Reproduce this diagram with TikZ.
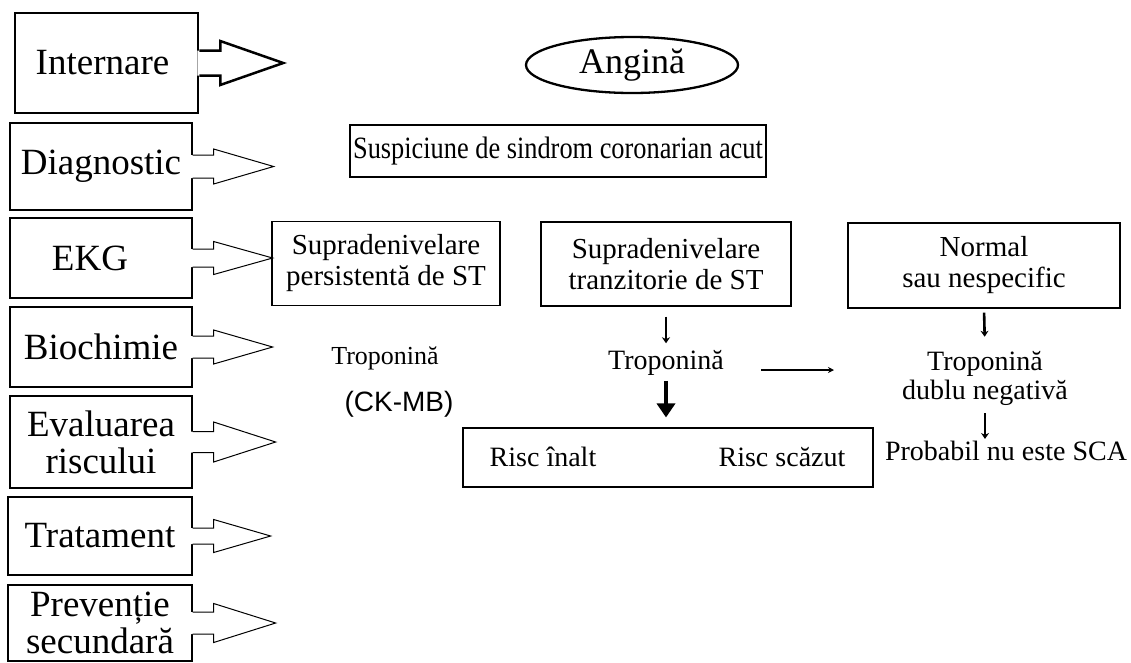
\documentclass[tikz,border=0pt]{standalone}
\usepackage{fontspec}
\usepackage{graphicx}
\setmainfont{Liberation Serif}
\newfontfamily\sansf{Liberation Sans}
\usetikzlibrary{shapes.geometric,arrows.meta,calc}

% #1 node, #2 shaft half, #3 head half, #4 stub, #5 length, #6 line width
\newcommand\sidearrow[6]{%
  \fill[white] ($(#1.east)+(-2,-#2)$) -- ($(#1.east)+(#4,-#2)$) -- ($(#1.east)+(#4,-#3)$) -- ($(#1.east)+(#5,0)$) -- ($(#1.east)+(#4,#3)$) -- ($(#1.east)+(#4,#2)$) -- ($(#1.east)+(-2,#2)$) -- cycle;
  \draw[line width=#6, line join=miter] ($(#1.east)+(0,-#2)$) -- ($(#1.east)+(#4,-#2)$) -- ($(#1.east)+(#4,-#3)$) -- ($(#1.east)+(#5,0)$) -- ($(#1.east)+(#4,#3)$) -- ($(#1.east)+(#4,#2)$) -- ($(#1.east)+(0,#2)$);
}

\tikzset{
  lbox/.style={draw, line width=1.3pt, minimum width=182pt, inner sep=0pt, align=center,
    font=\fontsize{37}{37}\selectfont},
  rbox/.style={draw, line width=1.1pt, inner sep=0pt, align=center,
    font=\fontsize{29}{31}\selectfont},
  txt/.style={inner sep=0pt, align=center, font=\fontsize{28}{28}\selectfont},
  thinarr/.style={line width=2.6pt, -{Stealth[length=6pt,width=8pt]}},
  boldarr/.style={line width=4.5pt, -{Triangle[length=14pt,width=18pt]}},
}

\begin{document}
\begin{tikzpicture}[x=1pt,y=-1pt]
\useasboundingbox (0,0) rectangle (1131,662);
\fill[white] (0,0) rectangle (1131,662);

% left column
\node[lbox, line width=2.5pt, minimum width=183pt, minimum height=100pt] (intern) at (106.5,63) {\hspace*{-8pt}Internare};
\node[lbox, minimum height=87pt] (diag) at (101,166.5) {Diagnostic};
\node[lbox, minimum height=80pt] (ekg) at (101,258) {\hspace*{-22pt}EKG};
\node[lbox, minimum height=80pt] (bio) at (101,347) {Biochimie};
\node[lbox, minimum height=92pt] (eval) at (101,442) {Evaluarea\\riscului};
\node[lbox, minimum width=184pt, minimum height=78pt] (trat) at (100,536) {Tratament};
\node[lbox, minimum width=184pt, minimum height=76pt] (prev) at (100,623) {Prevenție\\secundară};

\sidearrow{intern}{12.5}{22}{21}{84}{2.5pt}
\sidearrow{diag}{11.5}{17.5}{21}{81}{1pt}
\sidearrow{ekg}{9}{16.5}{21}{80}{1pt}
\sidearrow{bio}{11}{17}{21}{80}{1pt}
\sidearrow{eval}{10.5}{20}{21}{83}{1pt}
\sidearrow{trat}{8}{16.5}{21}{78}{1pt}
\sidearrow{prev}{11}{19.5}{21}{83}{1pt}

% right part
\node[draw, ellipse, line width=2.3pt, minimum width=212pt, minimum height=56pt, inner sep=0pt,
  font=\fontsize{36}{36}\selectfont] (angina) at (632,65) {Angină};
\node[rbox, minimum width=416pt, minimum height=52pt, font=\fontsize{31}{31}\selectfont] (susp) at (558,151) {\scalebox{0.85}[1]{Suspiciune de sindrom coronarian acut}};

\node[rbox, minimum width=228pt, minimum height=84pt] (b1) at (386,263.5) {Supradenivelare\\persistentă de ST};
\node[rbox, minimum width=250pt, minimum height=84pt] (b2) at (666,264) {Supradenivelare\\tranzitorie de ST};
\node[rbox, minimum width=272pt, minimum height=85pt] (b3) at (984,265.5) {Normal\\sau nespecific};

\node[txt, font=\fontsize{26}{26}\selectfont] (tropL) at (385,358) {Troponină};
\node[txt, font=\sansf\fontsize{28}{28}\selectfont] (ckmb) at (399,404) {(CK-MB)};
\node[txt] (tropM) at (666,363) {Troponină};
\node[txt, font=\fontsize{28}{29}\selectfont] (tropR) at (985,378) {Troponină\\dublu negativă};

\node[draw, line width=1.1pt, minimum width=410pt, minimum height=59pt, inner sep=0pt] (risc) at (668,457.5) {};
\node[txt] (rh) at (543,457) {Risc înalt};
\node[txt] (rl) at (782,457) {Risc scăzut};
\node[txt] (prob) at (1006,451) {Probabil nu este SCA};

% connectors
\draw[thinarr, shorten <=10pt, shorten >=7pt] (tropM.north |- b2.south) -- (tropM.north);
\draw[boldarr, shorten <=5pt, shorten >=10pt] (tropM.south) -- (tropM.south |- risc.north);
\draw[line width=2.2pt, -{Stealth[length=6pt,width=6pt]}, shorten <=37pt, shorten >=68pt]
  ([yshift=-7pt]tropM.east) -- ([yshift=-7pt]tropM.east -| tropR.west);
\draw[thinarr, shorten <=4pt, shorten >=14pt] (b3.south) -- (tropR.north);
\draw[thinarr, shorten <=8pt, shorten >=2pt] (tropR.south) -- (tropR.south |- prob.north);
\end{tikzpicture}
\end{document}
